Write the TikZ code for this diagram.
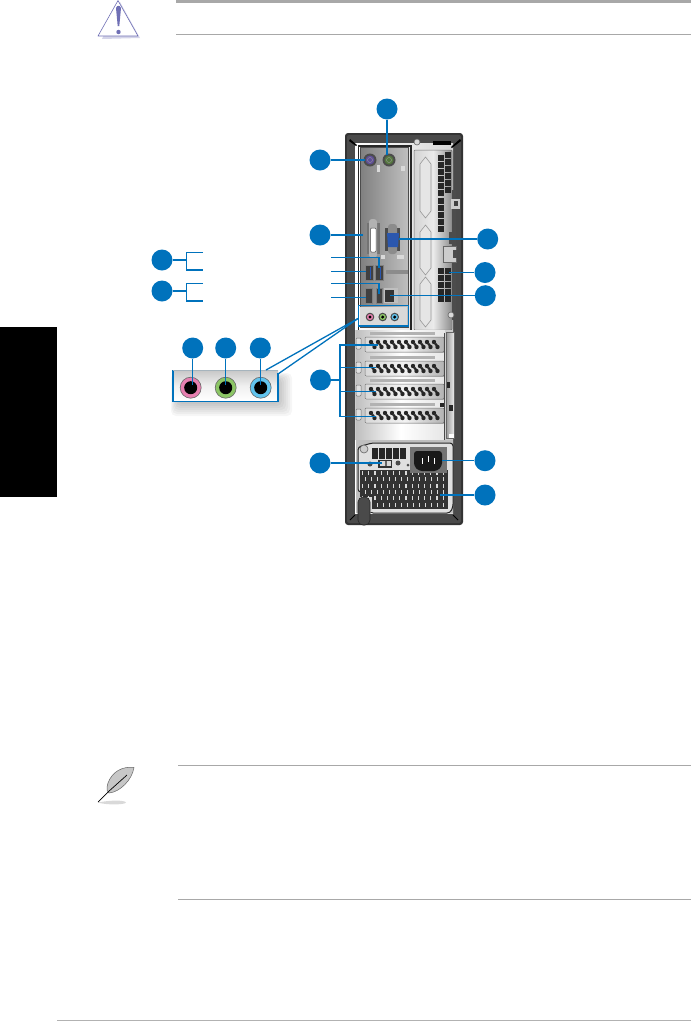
\documentclass[tikz,border=0pt]{standalone}
\usepackage{xcolor}
\usetikzlibrary{
  arrows.meta,
  calc,
  shapes.geometric
}
\definecolor{ioBlue}{HTML}{0072BC}
\definecolor{ioRule}{HTML}{A8A8A8}
\definecolor{ioCase}{HTML}{4A4A4A}
\definecolor{ioSilver}{HTML}{D4D4D4}
\definecolor{ioPink}{HTML}{E77FB0}
\definecolor{ioGreen}{HTML}{8CC665}
\definecolor{ioSky}{HTML}{62C4EE}
\definecolor{ioPurple}{HTML}{5E4E96}
\definecolor{ioVga}{HTML}{2B57AE}
\definecolor{ioWarn}{HTML}{6F6FB5}
\tikzset{
  callout/.style={circle, fill=ioBlue, minimum size=21pt, inner sep=0pt},
  leader/.style={line width=1.3pt, draw=ioBlue},
  headrule/.style={draw=ioRule, line width=0.9pt},
  hole/.style={fill=black!85, draw=none},
  plate/.style={draw=black!55, line width=0.5pt, rounded corners=1pt},
  dsub/.style={draw=black!40, line width=0.6pt, fill=black!10},
  port/.style={fill=black!75, draw=black!50, line width=0.5pt},
  bigjack/.style={circle, minimum size=21pt, inner sep=0pt, draw=black!60, line width=0.6pt},
  jackhole/.style={circle, fill=black, minimum size=13pt, inner sep=0pt},
  smalljack/.style={circle, minimum size=7.5pt, inner sep=0pt, draw=black!70, line width=1pt}
}
\begin{document}
\begin{tikzpicture}[x=1pt, y=-1pt]
  \useasboundingbox (0,0) rectangle (693,1021);
  % page furniture
  \fill[black] (0,327) rectangle (57,497);
  \draw[headrule, line width=3pt] (176,1) -- (691,1);
  \draw[headrule] (176,34) -- (691,34);
  \draw[headrule] (178,765.5) -- (691,765.5);
  \draw[headrule] (178,899) -- (691,899);
  \draw[black!30, line width=0.6pt] (57,1020.5) -- (691,1020.5);
  % warning sign
  \fill[ioWarn!30] (120,2) -- (140,38) -- (102,39) -- cycle;
  \draw[ioWarn, fill=white, line width=0.6pt, line join=round] (118,0.5) -- (138,36) -- (98,36) -- cycle;
  \fill[ioWarn] (116,8) .. controls (117,5) and (120,5) .. (121,8) -- (119.3,26) -- (117.7,26) -- cycle;
  \fill[ioWarn] (118.5,32) circle (2.2);
  % feather
  \fill[black!15] (98,802.5) .. controls (110,800) and (125,800) .. (126,802.5) .. controls (125,805) and (105,805) .. (98,802.5) -- cycle;
  \draw[black!60, fill=black!22, line width=0.5pt] (134,767.5) .. controls (122,766) and (112,772) .. (108,783) .. controls (106,790) and (107,792) .. (109,793) .. controls (120,792) and (132,780) .. (134,767.5) -- cycle;
  \draw[black, line width=0.7pt] (98,802) -- (108,792) -- (127,775);
  % chassis
  \fill[black!80, rounded corners=3pt] (345,133) rectangle (463,525);
  \fill[ioCase, rounded corners=2pt] (347,135) rectangle (461,523);
  \shade[left color=white, right color=ioSilver, middle color=black!8] (355,143) rectangle (453,513);
  \fill[black] (350,139) -- (357,145) -- (356,146) -- (349,141) -- cycle;
  \fill[black] (460,139) -- (451,147) -- (452,148) -- (461,141) -- cycle;
  \draw[black, line width=0.8pt] (350,520) -- (355,515);
  \draw[black, line width=0.8pt] (458,520) -- (453,515);
  \fill[black] (433,141) rectangle (451,145);
  \draw[black!60, fill=black!15, line width=0.6pt] (417,142) circle (3);
  \fill[black!85] (358,145) rectangle (410,147);
  \fill[black!85] (358,145) rectangle (359,330);
  \fill[black!85] (410,145) rectangle (412,332);
  % io shield
  \shade[left color=black!50, right color=black!25] (360,147) rectangle (408,327);
  \draw[black!70, line width=0.5pt] (360,147) rectangle (408,327);
  % ps2
  \foreach \nm/\x/\col in {mouse/370/ioPurple, keybd/389/ioGreen!60!black}{
    \fill[black!70] (\x,160) circle (6.5);
    \fill[\col] (\x,160) circle (4.5);
    \draw[black!40, line width=0.4pt] (\x,160) circle (2.5);
  }
  \fill[white!85!black] (377,165) rectangle (379.5,172);
  \fill[white!85!black] (401,166) rectangle (404.5,171);
  % dvi and vga
  \fill[black!55] (367,223) rectangle (380,254);
  \fill[black!30, rounded corners=3pt] (369,219) rectangle (377,258);
  \fill[white, rounded corners=1pt] (370.5,228) rectangle (376,252);
  \draw[black!70, line width=0.5pt, rounded corners=1pt] (370.5,228) rectangle (376,252);
  \fill[black!70] (385,228) rectangle (400,251);
  \fill[black!45, rounded corners=3pt] (388,224) rectangle (397,254);
  \fill[ioVga] (387,233) -- (399,233) -- (398,247) -- (388,247) -- cycle;
  \fill[white!85!black] (381,255) rectangle (385,259);
  \fill[white!85!black] (397,255) rectangle (404,259);
  \fill[black!45] (386,270) rectangle (408,274);
  % usb and lan
  \foreach \xa/\ya/\xb/\yb in {365/265/373/280, 375/265/383/280, 365/288/372/303, 376/288/382/303}{
    \fill[port] (\xa,\ya) rectangle (\xb,\yb);
  }
  \fill[ioVga] (370,267) rectangle (371,279);
  \fill[ioVga] (380,267) rectangle (381,279);
  \fill[black!25] (384,288) rectangle (398,303);
  \fill[black!80] (385,290) rectangle (394,302);
  % audio on the case
  \fill[black!15] (360,307) rectangle (407,325);
  \foreach \nm/\x/\col in {inpink/370/ioPink, ingreen/382.7/ioGreen, insky/394.7/ioSky}{
    \node[smalljack, fill=\col] (\nm) at (\x,317) {};
    \fill[black] (\x,317) circle (1.7);
  }
  \draw[leader] (358.5,305.5) rectangle (408.5,326);
  % expansion plate
  \shade[left color=ioSilver, right color=black!45, middle color=black!8] (414,150) rectangle (452,330);
  \draw[plate] (414,150) rectangle (452,330);
  \foreach \ya/\yb in {157/218, 225/275, 277/327}{
    \draw[dsub] (425.5,\ya) -- (431,{\ya+7}) -- (431,{\yb-7}) -- (425.5,\yb) -- (420,{\yb-7}) -- (420,{\ya+7}) -- cycle;
  }
  % vents of the plate
  \foreach \x/\ya/\n in {438/155/5, 445/152/5, 438/198/4, 438/268/4, 445/268/4}{
    \foreach \k in {0,...,\n}{
      \fill[hole] (\x,{\ya+7*\k}) rectangle +(6,6);
    }
  }
  \fill[black!70] (452,190) rectangle (456,320);
  \fill[black!20] (451,199) rectangle (460,209);
  \fill[black!75] (454,201) rectangle (458,206);
  \fill[black!70] (449,232) rectangle (454,244);
  \fill[black!20] (443,246) rectangle (456,262);
  \draw[black!60, line width=0.5pt] (443,246) rectangle (456,262);
  \fill[black!70] (453,250) rectangle (457,258);
  \draw[black!60, fill=black!15, line width=0.6pt] (451,315) circle (3);
  % pci slots
  \fill[black!20] (355,330) rectangle (453,440);
  \shade[left color=black!25, right color=black!10, middle color=white] (356,330) rectangle (445,440);
  \foreach \ya in {337,361,384,408}{
    \shade[left color=black!15, right color=black!30, middle color=black!5] (365,\ya) rectangle (444,{\ya+15});
    \draw[plate] (365,\ya) rectangle (444,{\ya+15});
    \fill[black!30] (370,{\ya-5}) rectangle (435,{\ya-2});
    \draw[black!55, fill=black!12, line width=0.5pt, rounded corners=1pt] (356,{\ya+1}) rectangle (361,{\ya+12});
    \foreach \x in {371,378,...,435}{
      \fill[hole] (\x,{\ya+5}) circle (2.2);
      \fill[hole] ({\x+3.5},{\ya+10}) circle (2.2);
      \fill[hole] ({\x+2},{\ya+7.5}) circle (1.6);
    }
  }
  % side bar
  \shade[left color=black!40, right color=black!8] (446,332) rectangle (454,438);
  \draw[black!60, line width=0.5pt] (446,332) rectangle (454,438);
  \fill[white] (449,434) rectangle (453.5,437.5);
  \fill[black!85] (447,382) rectangle (450,388);
  \fill[black!85] (449,405) rectangle (453,411);
  \fill[black!85] (440,403) rectangle (445,407);
  % psu
  \fill[ioCase] (444,333) rectangle (445,440);
  \fill[black!25] (356,440) rectangle (453,513);
  \draw[black!85, line width=1pt, fill=black!12, rounded corners=3pt] (358,492) -- (358,447) -- (372,443) -- (453,443) -- (453,507) -- (450,513) -- (370,513) -- (370,492) -- cycle;
  \draw[black!60, fill=black!20, line width=0.6pt] (364,449) circle (4);
  \foreach \x in {372,379,...,406}{
    \fill[hole] (\x,448) rectangle +(6,5.5);
    \fill[hole] (\x,454) rectangle +(6,4.5);
  }
  % psu vents
  \fill[black!80] (360,470) rectangle (448,497);
  \fill[black!80] (372,497) rectangle (448,509);
  \foreach \i in {0,1,...,13}{
    \foreach \j in {0,2,4}{
      \fill[black!15] ({362+6.2*\i},{471+6.3*\j}) rectangle +(1.2,4);
    }
  }
  \foreach \i in {0,1,...,13}{
    \foreach \j in {1,3,5}{
      \fill[black!15] ({365+6*\i},{471+6.3*\j}) rectangle +(1.2,4);
    }
  }
  \fill[white!85!black] (360,497) rectangle (372,512);
  \fill[ioCase, draw=black!85, line width=0.6pt, rounded corners=5pt] (358,525) -- (358,497) -- (370,497) -- (370,525) -- cycle;
  % socket
  \fill[black!55] (410,447) rectangle (447,473);
  \fill[black!90, rounded corners=3pt] (414,451) -- (442,451) -- (442,466) -- (437,471) -- (419,471) -- (414,466) -- cycle;
  \foreach \x/\y in {422/458, 428/456, 434/458}{
    \fill[white] (\x,\y) rectangle +(1.3,6);
  }
  % switch
  \fill[black!80] (378,459.5) rectangle (392,467.5);
  \fill[white!85!black] (379.5,461) rectangle (390.5,466);
  \fill[black!60] (385,461) rectangle (387,466);
  \fill[black!70] (370,464) circle (2.5);
  \fill[black!70] (398,463) circle (2.5);
  \fill[black!70] (408,465) circle (1.5);
  % big audio panel
  \foreach \d in {14,12,...,2}{
    \fill[black, opacity=0.035, rounded corners=5pt] ({178-\d/2},{380-\d/2}) rectangle ({278+\d},{402+\d});
  }
  \shade[top color=black!22, bottom color=white, middle color=black!6] (173,370) rectangle (278,401.5);
  \draw[leader] (278,373) -- (278,401.5) -- (173,401.5) -- (173,370);
  \draw[ioBlue!35!black!35, line width=1pt] (173,370) -- (278,370);
  \foreach \nm/\x/\col in {jackpink/190.7/ioPink, jackgreen/225.7/ioGreen, jacksky/260.7/ioSky}{
    \node[bigjack, fill=\col] (\nm) at (\x,387.7) {};
    \node[jackhole] (\nm hole) at (\x,387.7) {};
  }
  % callouts
  \foreach \nm/\x/\y in {
    ckeybd/387/109, cmouse/320/160, cdvi/320/235, cvga/487.7/239,
    cvent/485/272.5, clan/485.3/295.7, cusbone/162/260, cusbtwo/162/291,
    cpink/192.7/348, cgreen/225.7/348, csky/260.3/348, cslot/320.5/380,
    cswitch/320/463, csocket/485/460.7, cfan/485/495}{
    \node[callout] (\nm) at (\x,\y) {};
  }
  % leaders
  \foreach \nm/\x/\y in {
    ckeybd/387/155, cmouse/365/160, cdvi/363/235, cvga/399/239, cvent/449/272.5,
    clan/390/295.7, cswitch/382/463, csocket/442/460.7, cfan/440/495,
    cpink/192.7/385, cgreen/225.7/385, csky/260.3/385}{
    \coordinate (\nm end) at (\x,\y);
    \draw[leader] (\nm) -- (\nm end);
  }
  % usb leaders without callouts
  \coordinate (usba) at (331,257.7);
  \coordinate (usbb) at (331,271.7);
  \coordinate (usbc) at (331,283.3);
  \coordinate (usbd) at (331,297.7);
  \draw[leader] (usba) -| (379,268);
  \draw[leader] (usbb) -- (366,271.7);
  \draw[leader] (usbc) -| (379,294);
  \draw[leader] (usbd) -- (366,297.7);
  % brackets
  \foreach \nm/\y in {cusbone/260, cusbtwo/291}{
    \coordinate (\nm up) at (203,{\y-7.5});
    \coordinate (\nm dn) at (203,{\y+10});
    \draw[leader] (\nm) -- (186.7,\y);
    \draw[leader] (\nm up) -| (186.7,\y) |- (\nm dn);
  }
  % slot bracket
  \coordinate (slota) at (378,345);
  \coordinate (slotb) at (376,367.7);
  \coordinate (slotc) at (376,391.7);
  \coordinate (slotd) at (376,416.7);
  \draw[leader] (cslot) -- (340,380);
  \draw[leader] (slota) -| (340,380) |- (slotd);
  \draw[leader] (340,367.7) -- (slotb);
  \draw[leader] (340,391.7) -- (slotc);
  % audio zoom lines
  \coordinate (zoomtip) at (358,318.5);
  \coordinate (zooma) at (266,370);
  \coordinate (zoomb) at (278,374);
  \draw[leader] (zoomtip) -- (zooma);
  \draw[leader] (zoomtip) -- (zoomb);
\end{tikzpicture}
\end{document}
